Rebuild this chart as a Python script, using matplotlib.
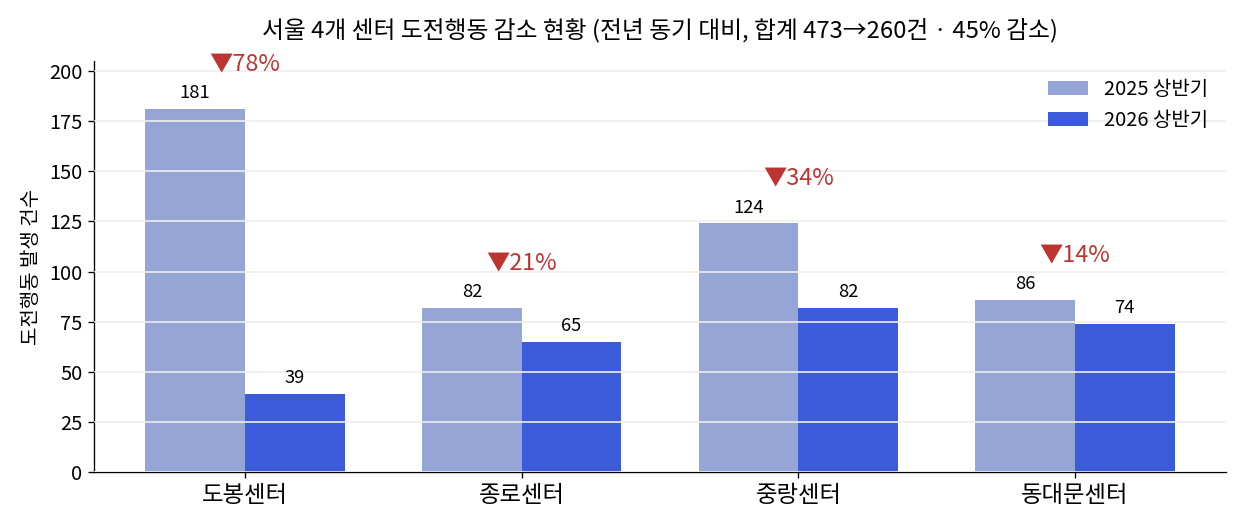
import matplotlib
matplotlib.use("Agg")
import matplotlib.pyplot as plt
import numpy as np

plt.rcParams['font.family'] = ['Noto Sans CJK KR', 'DejaVu Sans']

centers = ["도봉센터", "종로센터", "중랑센터", "동대문센터"]
v2025 = [181, 82, 124, 86]
v2026 = [39, 65, 82, 74]
reductions = ["▼78%", "▼21%", "▼34%", "▼14%"]
series_labels = ["2025 상반기", "2026 상반기"]
title = "서울 4개 센터 도전행동 감소 현황 (전년 동기 대비, 합계 473→260건 · 45% 감소)"
ylabel = "도전행동 발생 건수"

DPI = 120
fig, ax = plt.subplots(figsize=(1244 / DPI, 525 / DPI), dpi=DPI)
x = np.arange(len(centers))
w = 0.36
b1 = ax.bar(x - w/2, v2025, w, color="#94a5d6", label=series_labels[0], zorder=1)
b2 = ax.bar(x + w/2, v2026, w, color="#3b5bdb", label=series_labels[1], zorder=1)
ax.bar_label(b1, padding=4, fontsize=11)
ax.bar_label(b2, padding=4, fontsize=11)

for xi, a, b, r in zip(x, v2025, v2026, reductions):
    ax.text(xi, max(a, b) + 22, r, ha="center", va="center",
            color="#bd3430", fontsize=14)

ax.set_ylim(0, 205)
ax.set_yticks(np.arange(0, 201, 25))
ax.yaxis.grid(True, color="#eeeeee", linewidth=1.0, zorder=2)
ax.set_axisbelow(False)
ax.set_xticks(x)
ax.set_xticklabels(centers, fontsize=14)
ax.tick_params(axis='y', labelsize=12)
ax.set_ylabel(ylabel, fontsize=12)
ax.set_title(title, fontsize=14.3, pad=14)
ax.spines['top'].set_visible(False)
ax.spines['right'].set_visible(False)
ax.legend(frameon=False, fontsize=12, loc="upper right")
fig.tight_layout()
fig.subplots_adjust(left=94 / 1244)
fig.savefig("out.png", dpi=DPI)
